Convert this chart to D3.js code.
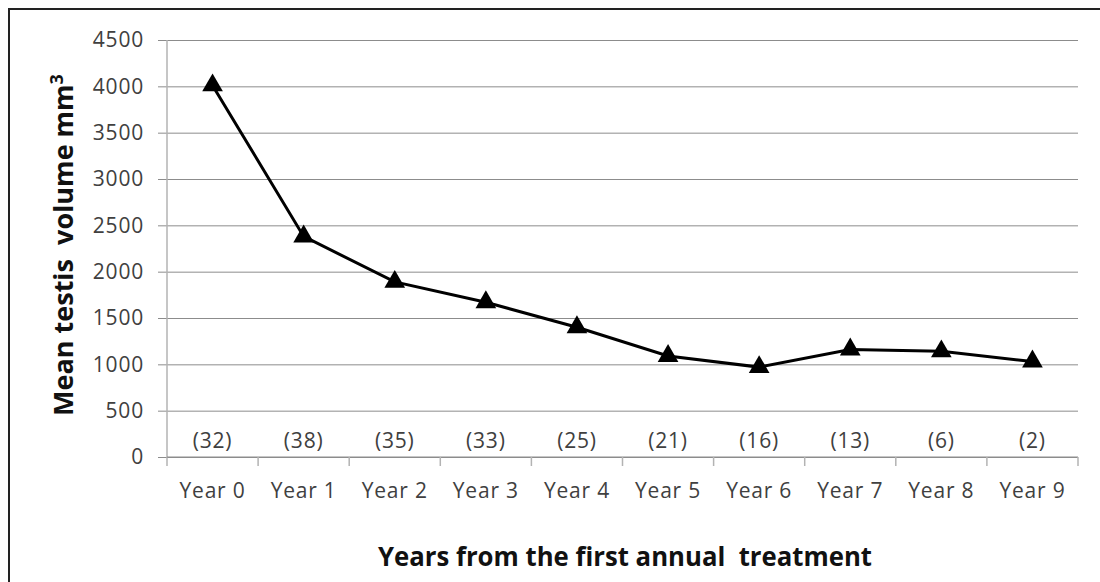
<!DOCTYPE html>
<html lang="en">
  <head>
    <meta charset="UTF-8" />
    <title>Mean testis volume</title>
    <script src="https://d3js.org/d3.v7.min.js"></script>
    <style>
      body { margin: 0; background: #fff; }
      svg { display: block; font-family: "Open Sans", Lato, sans-serif; }
      .lbl { font-size: 21px; letter-spacing: 0.8px; fill: #404040; }
    </style>
  </head>
  <body>
    <svg width="1100" height="582"></svg>
    <script>
      // data
      const years = ["Year 0", "Year 1", "Year 2", "Year 3", "Year 4",
                     "Year 5", "Year 6", "Year 7", "Year 8", "Year 9"];
      const volume = [4010, 2380, 1890, 1670, 1400, 1090, 970, 1160, 1140, 1030];
      const counts = [32, 38, 35, 33, 25, 21, 16, 13, 6, 2];
      const yTicks = [0, 500, 1000, 1500, 2000, 2500, 3000, 3500, 4000, 4500];

      let svg = d3.select("svg");

      // outer frame (right and bottom edges fall outside the picture)
      svg.append("rect")
        .attr("x", 9).attr("y", 9)
        .attr("width", 1120).attr("height", 600)
        .attr("fill", "none")
        .attr("stroke", "#222")
        .attr("stroke-width", 2);

      let plotL = 167, plotR = 1078, plotT = 40, plotB = 457;

      let x = d3.scaleBand().domain(years).range([plotL, plotR]);
      let y = d3.scaleLinear().domain([0, 4500]).range([plotB, plotT]);

      // gridlines + y labels
      let yAxis = svg.append("g")
        .attr("transform", `translate(${plotL},0)`)
        .call(d3.axisLeft(y).tickValues(yTicks).tickFormat(d3.format("d"))
          .tickSize(-(plotR - plotL)).tickPadding(23));
      yAxis.select(".domain").remove();
      yAxis.attr("font-family", null).attr("font-size", null);
      yAxis.selectAll(".tick line")
        .attr("stroke", "#8c8c8c")
        .attr("x1", -9);
      yAxis.selectAll(".tick text")
        .attr("class", "lbl")
        .attr("fill", null);

      // vertical axis line
      svg.append("line")
        .attr("x1", plotL).attr("x2", plotL)
        .attr("y1", plotT).attr("y2", plotB + 9)
        .attr("stroke", "#b3b3b3").attr("stroke-width", 1.5);

      // x axis line and ticks at band edges
      svg.append("line")
        .attr("x1", plotL).attr("x2", plotR)
        .attr("y1", plotB).attr("y2", plotB)
        .attr("stroke", "#8c8c8c");
      let edges = years.map((d) => x(d)).concat([plotR]);
      svg.append("g").selectAll("line")
        .data(edges.slice(1))
        .enter().append("line")
        .attr("x1", (d) => d).attr("x2", (d) => d)
        .attr("y1", plotB).attr("y2", plotB + 9)
        .attr("stroke", "#b3b3b3").attr("stroke-width", 1.5);

      // category labels
      svg.append("g").selectAll("text")
        .data(years)
        .enter().append("text")
        .attr("class", "lbl")
        .attr("x", (d) => x(d) + x.bandwidth() / 2)
        .attr("y", 498)
        .attr("text-anchor", "middle")
        .text((d) => d);

      // sample sizes
      svg.append("g").selectAll("text")
        .data(counts)
        .enter().append("text")
        .attr("class", "lbl")
        .attr("x", (d, i) => x(years[i]) + x.bandwidth() / 2)
        .attr("y", 448)
        .attr("text-anchor", "middle")
        .text((d) => "(" + d + ")");

      // line
      let line = d3.line()
        .x((d, i) => x(years[i]) + x.bandwidth() / 2)
        .y((d) => y(d));
      svg.append("path")
        .datum(volume)
        .attr("d", line)
        .attr("fill", "none")
        .attr("stroke", "#000")
        .attr("stroke-width", 3);

      // triangle markers
      svg.append("g").selectAll("path")
        .data(volume)
        .enter().append("path")
        .attr("d", d3.symbol().type(d3.symbolTriangle).size(185))
        .attr("transform", (d, i) => `translate(${x(years[i]) + x.bandwidth() / 2},${y(d)})`)
        .attr("fill", "#000");

      // axis titles
      svg.append("text")
        .attr("transform", "translate(73,245) rotate(-90)")
        .attr("text-anchor", "middle")
        .style("font-size", "27px")
        .style("font-weight", "bold")
        .attr("fill", "#111")
        .html('Mean testis&#160; volume mm<tspan dy="-10" font-size="18">3</tspan>');

      svg.append("text")
        .attr("x", 625)
        .attr("y", 566)
        .attr("text-anchor", "middle")
        .attr("textLength", 494)
        .attr("lengthAdjust", "spacingAndGlyphs")
        .style("font-size", "27px")
        .style("font-weight", "bold")
        .attr("fill", "#111")
        .text("Years from the first annual\u00a0 treatment");
    </script>
  </body>
</html>
